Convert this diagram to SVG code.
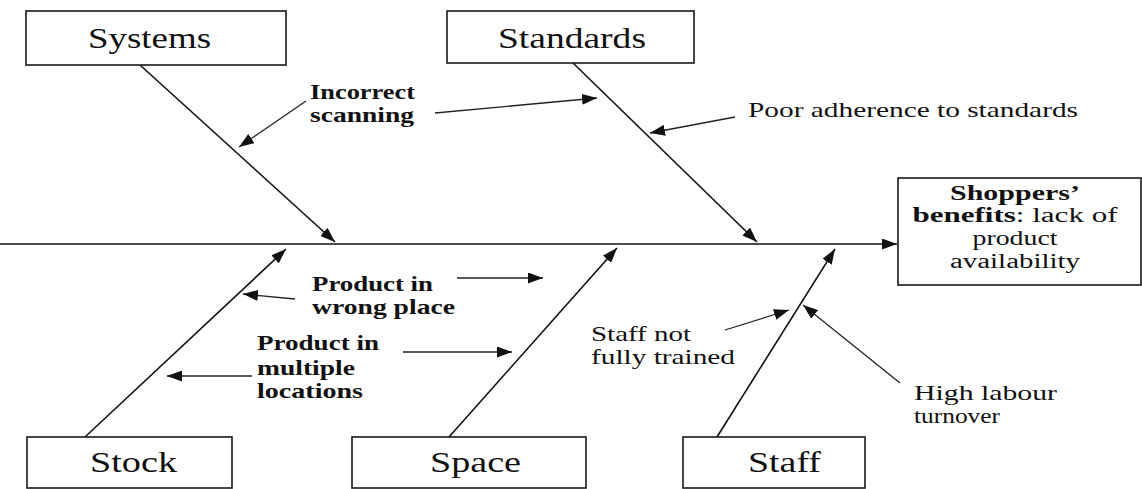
<svg xmlns="http://www.w3.org/2000/svg" width="1142" height="489" viewBox="0 0 1142 489">
  <style>
    .box { fill: #fff; stroke: #1a1a1a; stroke-width: 1.6; }
    .head { font-family: "Liberation Serif", "Times New Roman", serif; font-size: 30px; fill: #111; }
    .lbl { font-family: "Liberation Serif", "Times New Roman", serif; font-size: 21px; fill: #111; }
    .eff { font-family: "Liberation Serif", "Times New Roman", serif; font-size: 20px; fill: #111; }
    .b { font-weight: bold; }
    .bone { stroke: #111; stroke-width: 1.6; fill: none; }
    .cause { stroke: #222; stroke-width: 1.3; fill: none; }
  </style>
  <defs>
    <marker id="ah" viewBox="0 0 15 11" refX="15" refY="5.5" markerWidth="15" markerHeight="11" markerUnits="userSpaceOnUse" orient="auto">
      <path d="M0,0 L15,5.5 L0,11 Z" fill="#111"/>
    </marker>
  </defs>

  <!-- spine, category bones and cause arrows -->
  <g id="connectors">
    <line class="bone" x1="0" y1="244" x2="897" y2="244" marker-end="url(#ah)"/>
    <line class="bone" x1="140" y1="65" x2="335" y2="242" marker-end="url(#ah)"/>
    <line class="bone" x1="573" y1="63" x2="757" y2="242" marker-end="url(#ah)"/>
    <line class="bone" x1="85" y1="437" x2="286" y2="249" marker-end="url(#ah)"/>
    <line class="bone" x1="449" y1="437" x2="617" y2="248" marker-end="url(#ah)"/>
    <line class="bone" x1="717" y1="437" x2="835" y2="249" marker-end="url(#ah)"/>

    <line class="cause" x1="306" y1="101" x2="239" y2="147" marker-end="url(#ah)"/>
    <line class="cause" x1="435" y1="113" x2="597" y2="98" marker-end="url(#ah)"/>
    <line class="cause" x1="735" y1="117" x2="650" y2="133" marker-end="url(#ah)"/>
    <line class="cause" x1="295" y1="299" x2="243" y2="294" marker-end="url(#ah)"/>
    <line class="cause" x1="457" y1="278" x2="543" y2="278" marker-end="url(#ah)"/>
    <line class="cause" x1="403" y1="352" x2="512" y2="352" marker-end="url(#ah)"/>
    <line class="cause" x1="252" y1="376" x2="167" y2="376" marker-end="url(#ah)"/>
    <line class="cause" x1="725" y1="330" x2="789" y2="310" marker-end="url(#ah)"/>
    <line class="cause" x1="900" y1="383" x2="803" y2="305" marker-end="url(#ah)"/>
  </g>

  <g id="systems">
    <rect class="box" x="26" y="11" width="260" height="54"/>
    <text class="head" x="88" y="48" textLength="123" lengthAdjust="spacingAndGlyphs">Systems</text>
  </g>

  <g id="standards">
    <rect class="box" x="447" y="11" width="247" height="52"/>
    <text class="head" x="498" y="48" textLength="148" lengthAdjust="spacingAndGlyphs">Standards</text>
  </g>

  <g id="stock">
    <rect class="box" x="27" y="437" width="205" height="51"/>
    <text class="head" x="90" y="472" textLength="87" lengthAdjust="spacingAndGlyphs">Stock</text>
  </g>

  <g id="space">
    <rect class="box" x="352" y="437" width="234" height="51"/>
    <text class="head" x="430" y="472" textLength="91" lengthAdjust="spacingAndGlyphs">Space</text>
  </g>

  <g id="staff">
    <rect class="box" x="683" y="437" width="182" height="51"/>
    <text class="head" x="748" y="472" textLength="73" lengthAdjust="spacingAndGlyphs">Staff</text>
  </g>

  <g id="effect">
    <rect class="box" x="898" y="178" width="243" height="107"/>
    <text class="eff b" x="1015" y="200" text-anchor="middle" textLength="130" lengthAdjust="spacingAndGlyphs">Shoppers’</text>
    <text class="eff" x="1015" y="222" text-anchor="middle" textLength="205" lengthAdjust="spacingAndGlyphs"><tspan class="b">benefits</tspan>: lack of</text>
    <text class="eff" x="1015" y="245" text-anchor="middle" textLength="85" lengthAdjust="spacingAndGlyphs">product</text>
    <text class="eff" x="1015" y="268" text-anchor="middle" textLength="130" lengthAdjust="spacingAndGlyphs">availability</text>
  </g>

  <g id="incorrect-scanning">
    <text class="lbl b" x="310" y="99" textLength="105" lengthAdjust="spacingAndGlyphs">Incorrect</text>
    <text class="lbl b" x="310" y="122" textLength="104" lengthAdjust="spacingAndGlyphs">scanning</text>
  </g>

  <g id="poor-adherence">
    <text class="lbl" x="748" y="117" textLength="330" lengthAdjust="spacingAndGlyphs">Poor adherence to standards</text>
  </g>

  <g id="wrong-place">
    <text class="lbl b" x="312" y="291" textLength="121" lengthAdjust="spacingAndGlyphs">Product in</text>
    <text class="lbl b" x="312" y="314" textLength="143" lengthAdjust="spacingAndGlyphs">wrong place</text>
  </g>

  <g id="multiple-locations">
    <text class="lbl b" x="257" y="350" textLength="122" lengthAdjust="spacingAndGlyphs">Product in</text>
    <text class="lbl b" x="257" y="375" textLength="98" lengthAdjust="spacingAndGlyphs">multiple</text>
    <text class="lbl b" x="257" y="398" textLength="106" lengthAdjust="spacingAndGlyphs">locations</text>
  </g>

  <g id="not-trained">
    <text class="lbl" x="591" y="341" textLength="100" lengthAdjust="spacingAndGlyphs">Staff not</text>
    <text class="lbl" x="591" y="364" textLength="144" lengthAdjust="spacingAndGlyphs">fully trained</text>
  </g>

  <g id="labour-turnover">
    <text class="lbl" x="914" y="400" textLength="143" lengthAdjust="spacingAndGlyphs">High labour</text>
    <text class="lbl" x="914" y="423" textLength="86" lengthAdjust="spacingAndGlyphs">turnover</text>
  </g>
</svg>
